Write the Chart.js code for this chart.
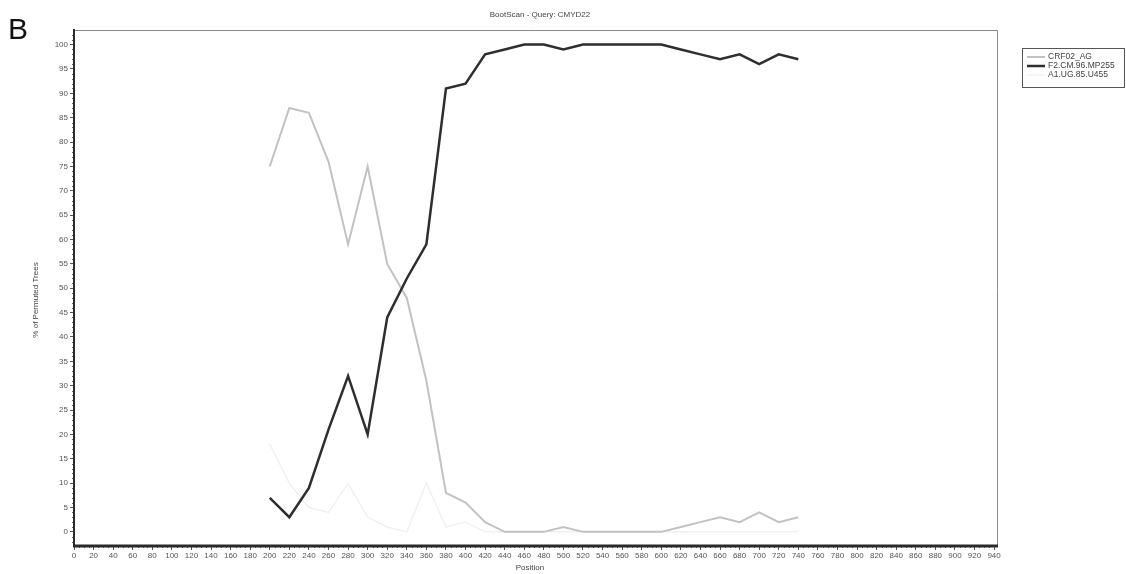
<!DOCTYPE html>
<html>
<head>
<meta charset="utf-8">
<title>BootScan - Query: CMYD22</title>
<script src="https://cdn.jsdelivr.net/npm/chart.js@4.4.1/dist/chart.umd.min.js"></script>
<style>
  html, body { margin: 0; padding: 0; background: #ffffff; }
  #wrap { width: 1126px; height: 574px; position: relative; }
  canvas { display: block; }
</style>
</head>
<body>
<div id="wrap"><canvas id="chart" width="1126" height="574"></canvas></div>
<script>
// Window positions along the query sequence
const positions = [200, 220, 240, 260, 280, 300, 320, 340, 360, 380, 400, 420, 440, 460,
                   480, 500, 520, 540, 560, 580, 600, 620, 640, 660, 680, 700, 720, 740];

// % of permuted trees supporting each reference
const crf02AG = [75, 87, 86, 76, 59, 75, 55, 48, 31, 8, 6, 2, 0, 0,
                 0, 1, 0, 0, 0, 0, 0, 1, 2, 3, 2, 4, 2, 3];
const f2CM96 = [7, 3, 9, 21, 32, 20, 44, 52, 59, 91, 92, 98, 99, 100,
                100, 99, 100, 100, 100, 100, 100, 99, 98, 97, 98, 96, 98, 97];
const a1UG85 = [18, 10, 5, 4, 10, 3, 1, 0, 10, 1, 2, 0, 0, 0,
                0, 0, 0, 0, 0, 0, 0, 0, 0, 0, 0, 0, 0, 0];

const seriesNames = ["CRF02_AG", "F2.CM.96.MP255", "A1.UG.85.U455"];
const chartTitle = "BootScan - Query: CMYD22";
const xTitle = "Position";
const yTitle = "% of Permuted Trees";
const panelLetter = "B";

// Axis tick labels
const xTicks = [];
for (let v = 0; v <= 940; v += 20) xTicks.push(v);
const yTicks = [];
for (let v = 0; v <= 100; v += 5) yTicks.push(v);

const toPoints = (vals) => positions.map((p, i) => ({ x: p, y: vals[i] }));

const FONT = "'Liberation Sans', Arial, sans-serif";

// Frame, minor ticks, titles and the boxed legend
const decorations = {
  id: 'decorations',
  beforeDatasetsDraw(chart) {
    const { ctx, chartArea: a, scales } = chart;
    ctx.save();
    // top and right frame
    ctx.strokeStyle = '#8a8a8a';
    ctx.lineWidth = 1;
    ctx.beginPath();
    ctx.moveTo(a.left, a.top + 0.5);
    ctx.lineTo(a.right - 0.5, a.top + 0.5);
    ctx.lineTo(a.right - 0.5, a.bottom);
    ctx.stroke();
    // minor ticks on the y axis
    ctx.strokeStyle = '#666';
    ctx.beginPath();
    for (let v = -2; v <= 102; v++) {
      if (v % 5 === 0) continue;
      const y = Math.round(scales.y.getPixelForValue(v)) + 0.5;
      ctx.moveTo(a.left - 2, y);
      ctx.lineTo(a.left, y);
    }
    // minor ticks on the x axis
    for (let v = 5; v <= 944; v += 5) {
      if (v % 20 === 0) continue;
      const x = Math.round(scales.x.getPixelForValue(v)) + 0.5;
      ctx.moveTo(x, a.bottom);
      ctx.lineTo(x, a.bottom + 2);
    }
    ctx.stroke();
    ctx.restore();
  },
  afterDraw(chart) {
    const { ctx, chartArea: a } = chart;
    ctx.save();
    // axes drawn heavier
    ctx.strokeStyle = '#2a2a2a';
    ctx.lineWidth = 2;
    ctx.beginPath();
    ctx.moveTo(a.left, a.top - 1);
    ctx.lineTo(a.left, a.bottom);
    ctx.stroke();
    ctx.lineWidth = 3;
    ctx.beginPath();
    ctx.moveTo(a.left - 1, a.bottom);
    ctx.lineTo(a.right, a.bottom);
    ctx.stroke();

    // panel letter
    ctx.fillStyle = '#111';
    ctx.font = `30px ${FONT}`;
    ctx.textAlign = 'left';
    ctx.textBaseline = 'middle';
    ctx.fillText(panelLetter, 8, 31);

    // chart title
    ctx.fillStyle = '#444';
    ctx.font = `8px ${FONT}`;
    ctx.textAlign = 'center';
    ctx.fillText(chartTitle, 540, 15);

    // axis titles
    ctx.fillText(xTitle, 530, 568);
    ctx.save();
    ctx.translate(36, 300);
    ctx.rotate(-Math.PI / 2);
    ctx.fillText(yTitle, 0, 0);
    ctx.restore();

    // legend box (entries clipped to the box)
    const bx = 1022, by = 48, bw = 102, bh = 39;
    ctx.strokeStyle = '#555';
    ctx.lineWidth = 1;
    ctx.strokeRect(bx + 0.5, by + 0.5, bw, bh);
    ctx.save();
    ctx.beginPath();
    ctx.rect(bx + 1, by + 1, bw - 1, bh - 1);
    ctx.clip();
    const styles = chart.data.datasets;
    const rowY = [57, 66, 75];
    ctx.textAlign = 'left';
    ctx.font = `8.5px ${FONT}`;
    [0, 1, 2].forEach((di, r) => {
      const ds = styles[di];
      ctx.strokeStyle = ds.borderColor;
      ctx.lineWidth = ds.borderWidth;
      ctx.beginPath();
      ctx.moveTo(bx + 5, rowY[r]);
      ctx.lineTo(bx + 23, rowY[r]);
      ctx.stroke();
      ctx.fillStyle = '#444';
      ctx.fillText(seriesNames[di], bx + 26, rowY[r]);
    });
    ctx.restore();
    ctx.restore();
  }
};

new Chart(document.getElementById('chart'), {
  type: 'line',
  data: {
    datasets: [
      {
        label: seriesNames[0],
        data: toPoints(crf02AG),
        borderColor: '#c2c2c2',
        borderWidth: 2,
        pointRadius: 0,
        tension: 0,
        order: 2
      },
      {
        label: seriesNames[1],
        data: toPoints(f2CM96),
        borderColor: '#2e2e2e',
        borderWidth: 2.5,
        pointRadius: 0,
        tension: 0,
        order: 1
      },
      {
        label: seriesNames[2],
        data: toPoints(a1UG85),
        borderColor: '#f0f0f0',
        borderWidth: 1.5,
        pointRadius: 0,
        tension: 0,
        order: 3
      }
    ]
  },
  options: {
    responsive: false,
    animation: false,
    layout: { padding: { left: 0, right: 128, top: 30, bottom: 0 } },
    plugins: {
      legend: { display: false },
      tooltip: { enabled: false },
      title: { display: false }
    },
    scales: {
      x: {
        type: 'linear',
        min: 0,
        max: 944,
        afterFit(scale) { scale.height = 28; },
        afterBuildTicks(scale) { scale.ticks = xTicks.map(v => ({ value: v })); },
        border: { display: false },
        grid: { display: true, drawOnChartArea: false, tickLength: 4, color: '#555' },
        ticks: {
          autoSkip: false,
          maxRotation: 0,
          padding: 1,
          color: '#555',
          font: { family: FONT, size: 8 }
        }
      },
      y: {
        min: -2.9,
        max: 103,
        afterFit(scale) { scale.width = 74; },
        afterBuildTicks(scale) { scale.ticks = yTicks.map(v => ({ value: v })); },
        border: { display: false },
        grid: { display: true, drawOnChartArea: false, tickLength: 4, color: '#555' },
        ticks: {
          padding: 2,
          color: '#555',
          font: { family: FONT, size: 8 }
        }
      }
    }
  },
  plugins: [decorations]
});
</script>
</body>
</html>
